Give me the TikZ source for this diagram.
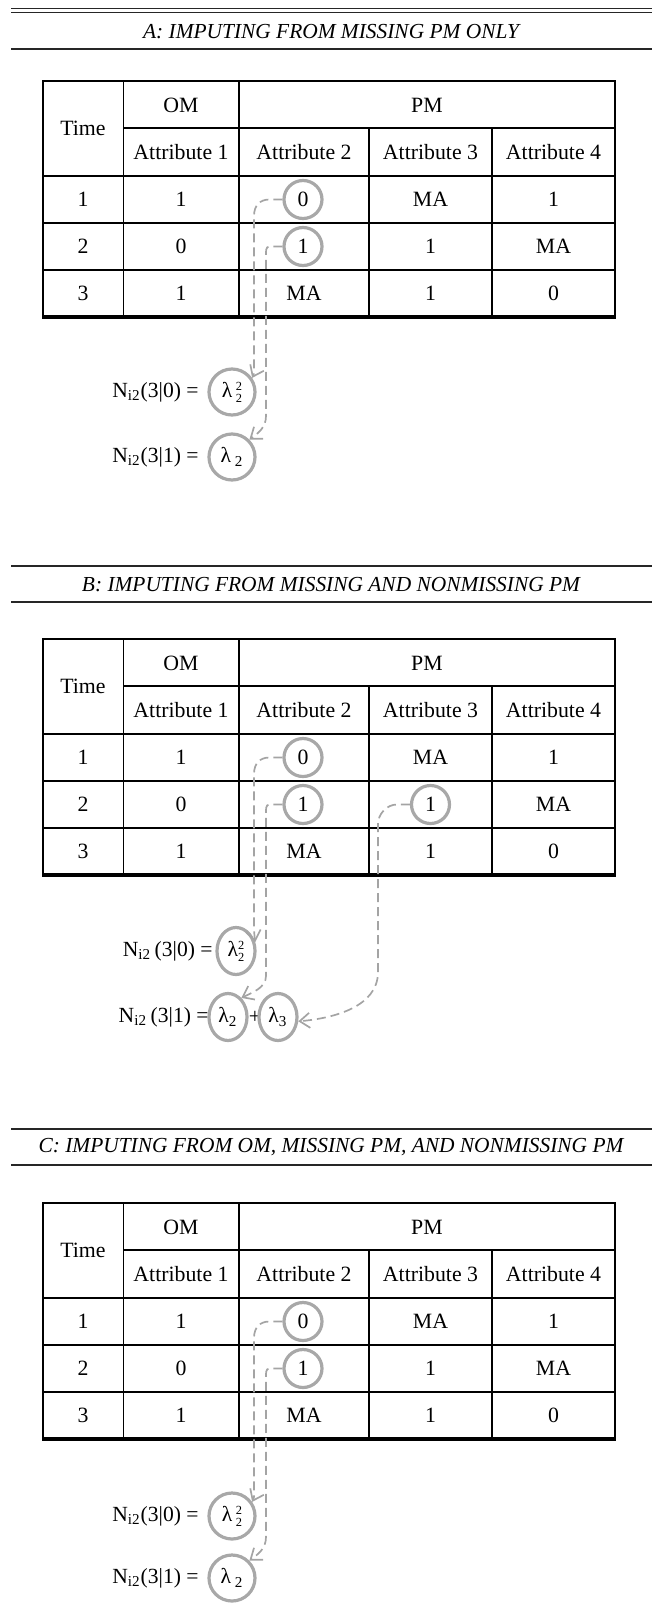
\documentclass[tikz,border=0pt]{standalone}
\usepackage{fontspec}
\setmainfont{Liberation Serif}
\usetikzlibrary{arrows.meta,shapes.geometric}

\definecolor{cgray}{HTML}{A8A8A8}
\definecolor{dgray}{HTML}{A4A4A4}

\tikzset{
  cell/.style={font=\fontsize{10.9}{12}\selectfont, text height=7.2pt, text depth=0pt, inner sep=0pt},
  rc/.style={cell, circle, draw=cgray, line width=1.6pt, minimum size=19pt},
  lc/.style={circle, draw=cgray, line width=1.6pt, minimum size=23pt, inner sep=0pt,
             font=\fontsize{10.8}{12}\selectfont},
  le/.style={ellipse, draw=cgray, line width=1.6pt, minimum width=19pt, minimum height=23.5pt,
             inner sep=0pt, font=\fontsize{10.8}{12}\selectfont},
  conn/.style={draw=dgray, line width=0.85pt, dash pattern=on 4.5pt off 2.5pt,
               -{Straight Barb[length=5pt,width=7.5pt]}},
  ttl/.style={font=\fontsize{10.7}{12}\selectfont\itshape, inner sep=0pt},
  rulel/.style={line width=0.6pt, draw=black!85},
  outerl/.style={line width=1.2pt},
  innerl/.style={line width=0.75pt},
  eq/.style={font=\fontsize{10.8}{12}\selectfont, inner sep=0pt, anchor=east},
  plus/.style={font=\fontsize{10.8}{12}\selectfont, inner sep=0pt},
}

\newcommand\paneltable[2]{%
  \draw[innerl] (123.5,128) -- (615,128);
  \draw[innerl] (43,176) -- (615,176) (43,223) -- (615,223) (43,270) -- (615,270);
  \draw[innerl] (123.5,81) -- (123.5,317) (239,81) -- (239,317)
                (369,128) -- (369,317) (492,128) -- (492,317);
  \draw[outerl] (43,81) rectangle (615,317);
  \draw[line width=1.6pt] (42,317) -- (616,317);
  \node[cell] (#1time) at (83,128.5) {Time};
  \node[cell] (#1om) at (181,105) {OM};
  \node[cell] (#1pm) at (427,105) {PM};
  \node[cell] (#1at1) at (181,152.5) {Attribute 1};
  \node[cell] (#1at2) at (304,152.5) {Attribute 2};
  \node[cell] (#1at3) at (430.5,152.5) {Attribute 3};
  \node[cell] (#1at4) at (553.5,152.5) {Attribute 4};
  \node[cell] (#1r1c0) at (83,199.5) {1};
  \node[cell] (#1r1c1) at (181,199.5) {1};
  \node[rc]   (#1r1c2) at (303,199.5) {0};
  \node[cell] (#1r1c3) at (430.5,199.5) {MA};
  \node[cell] (#1r1c4) at (553.5,199.5) {1};
  \node[cell] (#1r2c0) at (83,246.5) {2};
  \node[cell] (#1r2c1) at (181,246.5) {0};
  \node[rc]   (#1r2c2) at (303,246.5) {1};
  \node[#2]   (#1r2c3) at (430.5,246.5) {1};
  \node[cell] (#1r2c4) at (553.5,246.5) {MA};
  \node[cell] (#1r3c0) at (83,293.5) {3};
  \node[cell] (#1r3c1) at (181,293.5) {1};
  \node[cell] (#1r3c2) at (304,293.5) {MA};
  \node[cell] (#1r3c3) at (430.5,293.5) {1};
  \node[cell] (#1r3c4) at (553.5,293.5) {0};
}

\newcommand\smallfig[1]{{\fontsize{6.2}{6.2}\selectfont #1}}
\newcommand\lamsq{λ\,\rlap{\raisebox{3.4pt}{\smallfig{2}}}\raisebox{-2.4pt}{\smallfig{2}}}
\newcommand\lamsqt{λ\rlap{\raisebox{3.4pt}{\smallfig{2}}}\raisebox{-2.4pt}{\smallfig{2}}}

\begin{document}
\begin{tikzpicture}[x=0.5pt,y=-0.5pt]
\useasboundingbox (0,0) rectangle (652,1612);

% ---------------- Panel A ----------------
\draw[line width=0.75pt, draw=black!85] (11,8.3) -- (652,8.3);
\draw[rulel] (11,12.7) -- (652,12.7);
\node[ttl] (tA) at (331,31.5) {A: IMPUTING FROM MISSING PM ONLY};
\draw[rulel] (11,49) -- (652,49);
\paneltable{A}{cell}
\node[eq] (An0) at (199,392) {N\textsubscript{i2}(3|0) =};
\node[lc] (Al1) at (232,392) {\lamsq};
\node[eq] (An1) at (199,457) {N\textsubscript{i2}(3|1) =};
\node[lc] (Al2) at (232,457) {λ\,\textsubscript{2}};
\draw[conn] (Ar1c2.west) -- ++(-13,0) .. controls +(-10,0) and +(0,-10) .. (254,216)
            -- (254,368) .. controls +(0,6) .. (Al1.35);
\draw[conn] (Ar2c2.west) -- ++(-13,0) .. controls +(-4,0) and +(0,-4) .. (266,256)
            -- (266,416) .. controls +(0,12) and +(8,-6) .. (Al2.45);

% ---------------- Panel B ----------------
\draw[rulel] (11,566) -- (652,566);
\node[ttl] (tB) at (331,585) {B: IMPUTING FROM MISSING AND NONMISSING PM};
\draw[rulel] (11,602) -- (652,602);
\begin{scope}[yshift=-279pt]
\paneltable{B}{rc}
\node[eq] (Bn0) at (213,393) {N\textsubscript{i2}\,(3|0) =};
\node[le] (Bl1) at (236,393) {\lamsqt};
\node[eq] (Bn1) at (209,459) {N\textsubscript{i2}\,(3|1) =};
\node[le] (Bl2) at (228,459) {λ\textsubscript{2}};
\node[plus] (Bplus) at (255,459) {+};
\node[le] (Bl3) at (278,459) {λ\textsubscript{3}};
\draw[conn] (Br1c2.west) -- ++(-13,0) .. controls +(-10,0) and +(0,-10) .. (254,216)
            -- (254,372) .. controls +(0,5) .. (Bl1.25);
\draw[conn] (Br2c2.west) -- ++(-13,0) .. controls +(-4,0) and +(0,-4) .. (266,256)
            -- (266,418) .. controls +(0,12) and +(10,-5) .. (Bl2.55);
\draw[conn] (Br2c3.west) -- ++(-13,0) .. controls +(-10,0) and +(0,-10) .. (378,266)
            -- (378,414) .. controls +(0,35) and +(35,-3) .. (Bl3.-12);
\end{scope}

% ---------------- Panel C ----------------
\draw[rulel] (11,1129) -- (652,1129);
\node[ttl] (tC) at (331,1147) {C: IMPUTING FROM OM, MISSING PM, AND NONMISSING PM};
\draw[rulel] (11,1165) -- (652,1165);
\begin{scope}[yshift=-561pt]
\paneltable{C}{cell}
\node[eq] (Cn0) at (199,394) {N\textsubscript{i2}(3|0) =};
\node[lc] (Cl1) at (232,394) {\lamsq};
\node[eq] (Cn1) at (199,456) {N\textsubscript{i2}(3|1) =};
\node[lc] (Cl2) at (232,456) {λ\,\textsubscript{2}};
\draw[conn] (Cr1c2.west) -- ++(-13,0) .. controls +(-10,0) and +(0,-10) .. (254,216)
            -- (254,370) .. controls +(0,6) .. (Cl1.35);
\draw[conn] (Cr2c2.west) -- ++(-13,0) .. controls +(-4,0) and +(0,-4) .. (266,256)
            -- (266,415) .. controls +(0,12) and +(8,-6) .. (Cl2.45);
\end{scope}
\end{tikzpicture}
\end{document}
